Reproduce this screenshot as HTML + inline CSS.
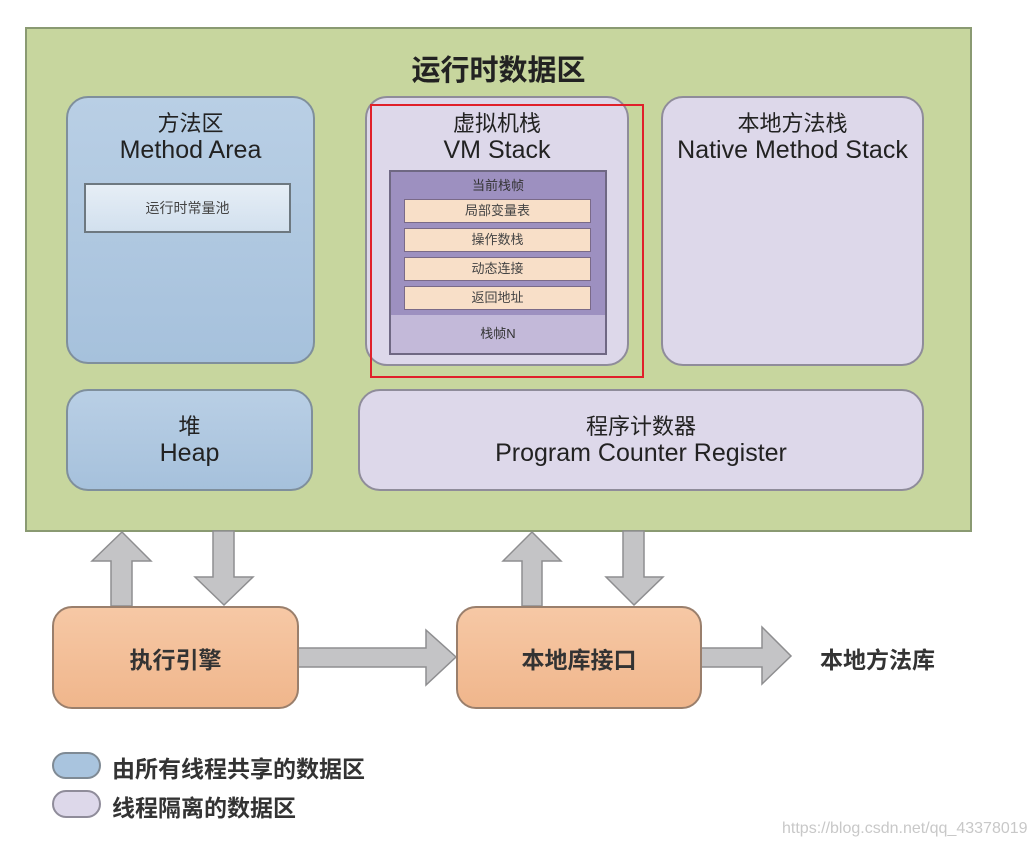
<!DOCTYPE html>
<html><head><meta charset="utf-8"><style>
body{margin:0;width:1034px;height:848px;background:#fff;position:relative;overflow:hidden;font-family:"Liberation Sans","Noto Sans CJK SC",sans-serif;color:#222}
.a{position:absolute;box-sizing:border-box}
.c{display:flex;flex-direction:column;align-items:center;text-align:center}
.blue{background:linear-gradient(#b9cfe5,#a6c1dc);border:2px solid #7f8f9c;border-radius:22px}
.lav{background:#ddd8ea;border:2px solid #8f8c9a;border-radius:22px}
.org{background:linear-gradient(#f6c8a5,#f0b68c);border:2px solid #9a7f6c;border-radius:20px;justify-content:center;font-size:23px;font-weight:bold;color:#333}
.t{font-size:22px;line-height:27px;margin-top:12px}
.t span{font-size:25px}
.row{background:#f8dfc8;border:1px solid #7a6a88;font-size:13px;line-height:21px;text-align:center;color:#444}
</style></head><body>
<div class="a" style="left:25px;top:27px;width:947px;height:505px;background:#c7d69e;border:2px solid #8a9a72"></div>
<div class="a" style="left:25px;top:47px;width:947px;text-align:center;font-size:29px;font-weight:bold;color:#222">运行时数据区</div>

<div class="a blue c" style="left:66px;top:96px;width:249px;height:268px"><div class="t">方法区<br><span>Method Area</span></div></div>
<div class="a" style="left:84px;top:183px;width:207px;height:50px;background:linear-gradient(#e6eef6,#d2e0ee);border:2px solid #6d7880;font-size:14px;line-height:46px;text-align:center;color:#444">运行时常量池</div>

<div class="a lav c" style="left:365px;top:96px;width:264px;height:270px"><div class="t">虚拟机栈<br><span>VM Stack</span></div></div>
<div class="a" style="left:389px;top:170px;width:218px;height:185px;background:#c3b9d9;border:2px solid #6f6883"></div>
<div class="a" style="left:391px;top:172px;width:214px;height:143px;background:#9d90c0;font-size:13px;line-height:28px;text-align:center;color:#333">当前栈帧</div>
<div class="a" style="left:391px;top:315px;width:214px;height:38px;font-size:13px;line-height:38px;text-align:center;color:#333">栈帧N</div>
<div class="a row" style="left:404px;top:199px;width:187px;height:24px">局部变量表</div>
<div class="a row" style="left:404px;top:228px;width:187px;height:24px">操作数栈</div>
<div class="a row" style="left:404px;top:257px;width:187px;height:24px">动态连接</div>
<div class="a row" style="left:404px;top:286px;width:187px;height:24px">返回地址</div>

<div class="a lav c" style="left:661px;top:96px;width:263px;height:270px"><div class="t">本地方法栈<br><span>Native Method Stack</span></div></div>
<div class="a blue c" style="left:66px;top:389px;width:247px;height:102px;justify-content:center"><div class="t" style="margin:0">堆<br><span>Heap</span></div></div>
<div class="a lav c" style="left:358px;top:389px;width:566px;height:102px;justify-content:center"><div class="t" style="margin:0">程序计数器<br><span>Program Counter Register</span></div></div>

<div class="a" style="left:370px;top:104px;width:274px;height:274px;border:2px solid #e0202a"></div>

<svg class="a" style="left:0;top:0" width="1034" height="848">
<g fill="#c4c4c6" stroke="#8e8e90" stroke-width="1.5">
<polygon points="122,532 151,561 132,561 132,606 111,606 111,561 92,561"/>
<polygon points="213,531 234,531 234,577 253,577 224,605 195,577 213,577"/>
<polygon points="298,648 426,648 426,630 456,657 426,685 426,667 298,667"/>
<polygon points="532,532 561,561 542,561 542,606 522,606 522,561 503,561"/>
<polygon points="623,531 644,531 644,577 663,577 634,605 606,577 623,577"/>
<polygon points="701,648 762,648 762,627 791,656 762,684 762,667 701,667"/>
</g></svg>

<div class="a c org" style="left:52px;top:606px;width:247px;height:103px">执行引擎</div>
<div class="a c org" style="left:456px;top:606px;width:246px;height:103px">本地库接口</div>
<div class="a" style="left:820px;top:641px;font-size:23px;font-weight:bold;color:#333">本地方法库</div>

<div class="a" style="left:52px;top:752px;width:49px;height:27px;border-radius:14px;background:#a9c4de;border:2px solid #7f8a94"></div>
<div class="a" style="left:52px;top:790px;width:49px;height:28px;border-radius:14px;background:#ddd8ea;border:2px solid #8f8c9a"></div>
<div class="a" style="left:112px;top:750px;font-size:23px;font-weight:bold;color:#333">由所有线程共享的数据区</div>
<div class="a" style="left:112px;top:789px;font-size:23px;font-weight:bold;color:#333">线程隔离的数据区</div>
<div class="a" style="left:782px;top:820px;font-size:16px;color:#c8c8c8">https://blog.csdn.net/qq_43378019</div>
</body></html>
